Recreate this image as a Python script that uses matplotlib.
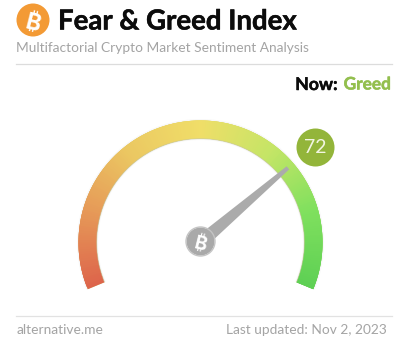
import numpy as np
import matplotlib
matplotlib.use("Agg")
import matplotlib.pyplot as plt
import matplotlib.patheffects as pe
from matplotlib.patches import Wedge, Circle, Polygon
from matplotlib.colors import LinearSegmentedColormap

# Data
title = "Fear & Greed Index"
subtitle = "Multifactorial Crypto Market Sentiment Analysis"
now_label = "Now:"
now_class = "Greed"
value = 72
gauge_min, gauge_max = 0, 100
source = "alternative.me"
updated = "Last updated: Nov 2, 2023"
stop_positions = [0.0, 0.17, 0.33, 0.5, 0.67, 0.83, 1.0]
stop_colors = ["#dd644b", "#e69a58", "#ebc862", "#f0de68", "#c4e566", "#80e05e", "#5ed054"]

W, H = 402, 354
fig = plt.figure(figsize=(W / 100, H / 100), dpi=100, facecolor="white")
ax = fig.add_axes([0, 0, 1, 1])
ax.set_xlim(0, W)
ax.set_ylim(H, 0)
ax.axis("off")

plt.rcParams["font.family"] = ["Lato", "DejaVu Sans"]
px = 0.72
BTC_FONTS = ["Inter", "Roboto", "Noto Sans", "Open Sans", "Liberation Sans", "DejaVu Sans"]
heavy = [pe.withStroke(linewidth=0.35, foreground="#0c0c0c")]
heavy_green = [pe.withStroke(linewidth=0.35, foreground="#93bf4e")]

def bitcoin(x, y, r, face, glyph, size):
    ax.add_patch(Circle((x, y), r, fc=face, ec="none", zorder=8))
    ax.text(x, y, "\u20bf", family=BTC_FONTS, fontweight="bold", color=glyph, fontsize=size * px,
            rotation=-14, ha="center", va="center_baseline", zorder=9)

# Header
bitcoin(33, 20, 16.5, "#f39a35", "white", 23)
ax.text(58, 21.5, title, fontsize=27.6 * px, fontweight="bold", color="#0c0c0c", va="center", ha="left",
        path_effects=heavy)
ax.text(16.5, 48.5, subtitle, fontsize=13.7 * px, color="#a4a4a4", va="center", ha="left")
ax.plot([16, 392], [63.5, 63.5], color="#dcdcdc", lw=0.9)
ax.text(391, 84.5, now_class, fontsize=17.3 * px, fontweight="bold", color="#93bf4e", va="center", ha="right",
        path_effects=heavy_green)
ax.text(337.5, 84.5, now_label, fontsize=17.6 * px, fontweight="bold", color="#0c0c0c", va="center", ha="right",
        path_effects=heavy)

# Gauge
cx, cy, r_out, r_in = 200.5, 242.5, 122, 104
start_deg, sweep = 202.5, 225
cmap = LinearSegmentedColormap.from_list("fg", list(zip(stop_positions, stop_colors)))

def val_to_deg(v):
    return start_deg - sweep * (v - gauge_min) / (gauge_max - gauge_min)

# Screen y runs downward, so wedge angles are mirrored.
def wedge(v0, v1, ro, width, **kw):
    a0, a1 = val_to_deg(v0), val_to_deg(v1)
    return Wedge((cx, cy), ro, -a0, -a1, width=width, **kw)

ax.add_patch(wedge(0, 100, r_out + 1.5, r_out - r_in + 3, fc="#f8f8f8", ec="none", zorder=1))
# One solid base arc under the gradient keeps white from showing through the joins.
ax.add_patch(wedge(0, 100, r_out, r_out - r_in, fc="#cfcf70", ec="none", zorder=2))
steps = np.arange(gauge_min, gauge_max, 0.5)
for s in steps:
    c = cmap((s + 0.25) / (gauge_max - gauge_min))
    ax.add_patch(wedge(s, min(s + 1.5, gauge_max), r_out, r_out - r_in, fc=c, ec="none", zorder=2))
ax.add_patch(wedge(0, 100, r_in + 0.2, 0.8, fc="#c8c8a0", ec="none", alpha=0.7, zorder=3))

# Needle
theta = np.deg2rad(val_to_deg(value))
u = np.array([np.cos(theta), -np.sin(theta)])
n = np.array([u[1], -u[0]])
c0 = np.array([cx, cy])
tip = c0 + u * 115
base = c0 + u * 8
ax.add_patch(Polygon([base + n * 6.5, tip + n * 2, tip - n * 2, base - n * 6.5],
                     closed=True, fc="#ababab", ec="none", zorder=5))
bitcoin(cx, cy - 1, 14, "#a9a9a9", "white", 19)
ax.add_patch(Circle((cx, cy - 1), 14.5, fc="none", ec="#c4c4c4", lw=1, zorder=8))

# Value badge
ax.add_patch(Circle((315.5, 147.5), 19, fc="#93b53a", ec="none", zorder=6))
ax.text(315.5, 147.5, str(value), fontsize=19.5 * px, color="#f2f5e2", ha="center", va="center", zorder=7)

# Footer
ax.plot([16, 392], [315.5, 315.5], color="#e2e2e2", lw=0.9)
ax.text(16.5, 330, source, fontsize=13.7 * px, color="#a4a4a4", va="center", ha="left")
ax.text(387, 330, updated, fontsize=13.7 * px, color="#a4a4a4", va="center", ha="right")

fig.savefig("out.png", dpi=100, facecolor="white")
